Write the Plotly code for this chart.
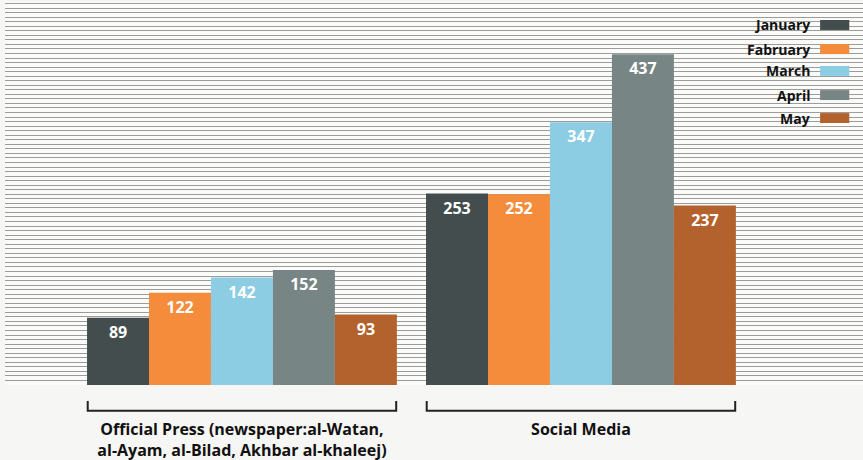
import plotly.graph_objects as go

categories = ["Official Press (newspaper:al-Watan,<br>al-Ayam, al-Bilad, Akhbar al-khaleej)", "Social Media"]
months = ["January", "Fabruary", "March", "April", "May"]
values = {
    "January": [89, 253],
    "Fabruary": [122, 252],
    "March": [142, 347],
    "April": [152, 437],
    "May": [93, 237],
}
colors = ["#434d4d", "#f58c3c", "#8ccde4", "#778584", "#b4622d"]

FONT = "Open Sans"
fig = go.Figure()
for m, c in zip(months, colors):
    fig.add_trace(go.Bar(
        x=[0, 1], y=values[m], name=m, marker=dict(color=c, line=dict(width=0)),
        text=[str(v) for v in values[m]], textposition="inside", insidetextanchor="end",
        textangle=0, textfont=dict(family=FONT, size=16, color="white", weight="bold"),
        showlegend=False,
    ))

# manual legend (text left of swatch)
leg_y = [0.940, 0.877, 0.820, 0.757, 0.697]
for m, c, yy in zip(months, colors, leg_y):
    fig.add_annotation(xref="paper", yref="paper", x=0.940, y=yy, text=m, showarrow=False,
                       xanchor="right", yanchor="middle",
                       font=dict(family=FONT, size=14, color="#111", weight="bold"))
    fig.add_shape(type="rect", xref="paper", yref="paper", x0=0.950, x1=0.984,
                  y0=yy - 0.013, y1=yy + 0.013, fillcolor=c, line=dict(width=0))

# brackets below groups
for g in [0, 1]:
    x0, x1 = g - 0.455, g + 0.455
    fig.add_shape(type="path", xref="x", yref="paper",
                  path=f"M {x0} -0.042 L {x0} -0.067 L {x1} -0.067 L {x1} -0.042",
                  line=dict(color="#222", width=2))

fig.update_layout(
    width=863, height=460,
    margin=dict(l=5, r=0, t=2, b=75),
    paper_bgcolor="#f6f6f5", plot_bgcolor="#fbfbfa",
    barmode="group", bargap=0.086, bargroupgap=0,
    xaxis=dict(range=[-0.699, 1.832], tickvals=[0, 1], ticktext=categories,
               showgrid=False, zeroline=False, showline=False, ticks="",
               ticklabelstandoff=33, automargin=False,
               tickfont=dict(family=FONT, size=16, color="#111", weight="bold")),
    yaxis=dict(range=[0, 506], dtick=6, tick0=0, showgrid=True, gridcolor="#9c9c9c",
               gridwidth=1, showticklabels=False, zeroline=False, showline=False, ticks="",
               automargin=False),
    showlegend=False,
)
fig.write_html("out.html", config={"displayModeBar": False},
               post_script="document.body.style.margin='0';document.body.style.overflow='hidden';")
